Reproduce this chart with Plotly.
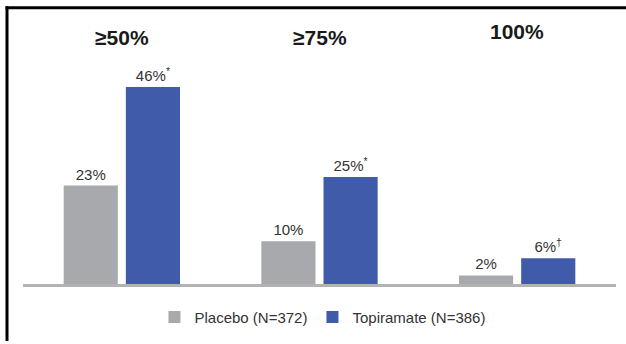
import plotly.graph_objects as go

# Response-rate categories and results per treatment arm
categories = ["≥50%", "≥75%", "100%"]
placebo = [23, 10, 2]
topiramate = [46, 25, 6]
topiramate_marks = ["*", "*", "†"]
series_names = ["Placebo (N=372)", "Topiramate (N=386)"]

GRAY = "#a7a9ac"
BLUE = "#3f5ba9"
FONT = "Liberation Sans Narrow, Arial Narrow, Liberation Sans, sans-serif"

W, H = 626, 344
ML, MR, MT, MB = 23, 10, 70, 56
plot_w = W - ML - MR
plot_h = H - MT - MB

fig = go.Figure()
fig.add_trace(go.Bar(
    x=categories, y=placebo, name=series_names[0],
    marker=dict(color=GRAY, line=dict(width=0)),
    text=[f"{v}%" for v in placebo],
    textposition="outside", cliponaxis=False,
    textfont=dict(family=FONT, size=15, color="#333333"),
))
fig.add_trace(go.Bar(
    x=categories, y=topiramate, name=series_names[1],
    marker=dict(color=BLUE, line=dict(width=0)),
    text=[f"{v}%<sup>{m}</sup>" for v, m in zip(topiramate, topiramate_marks)],
    textposition="outside", cliponaxis=False,
    textfont=dict(family=FONT, size=15, color="#333333"),
))

# Category headings above each group
head_y = [1.15, 1.15, 1.18]
for c, hy in zip(categories, head_y):
    fig.add_annotation(
        x=c, xref="x", y=hy, yref="paper", text=f"<b>{c}</b>",
        showarrow=False, font=dict(family=FONT, size=21, color="#1a1a1a"),
        xanchor="center", yanchor="middle",
    )

# Frame lines along the top and left edges
def px_x(px):
    return (px - ML) / plot_w

def px_y(py):
    return (H - MB - py) / plot_h

fig.add_shape(type="line", xref="paper", yref="paper",
              x0=px_x(5.5), x1=px_x(W + 2), y0=px_y(6.5), y1=px_y(6.5),
              line=dict(color="black", width=3))
fig.add_shape(type="line", xref="paper", yref="paper",
              x0=px_x(7), x1=px_x(7), y0=px_y(5), y1=px_y(H + 2),
              line=dict(color="black", width=3))

fig.update_layout(
    width=W, height=H,
    margin=dict(l=ML, r=MR, t=MT, b=MB),
    paper_bgcolor="white", plot_bgcolor="white",
    barmode="group", bargap=0.371, bargroupgap=0.129,
    showlegend=True,
    legend=dict(
        orientation="h", x=0.505, xanchor="center", y=-0.155, yanchor="middle",
        font=dict(family=FONT, size=15, color="#333333"),
        itemwidth=30, traceorder="normal",
    ),
    xaxis=dict(
        range=[-0.5, 2.5], showticklabels=False, ticks="",
        showline=True, linecolor="#b3b3b3", linewidth=3, showgrid=False,
        zeroline=False,
    ),
    yaxis=dict(
        range=[0, 50], visible=False, showgrid=False, zeroline=False,
    ),
)

fig.write_html("out.html")
